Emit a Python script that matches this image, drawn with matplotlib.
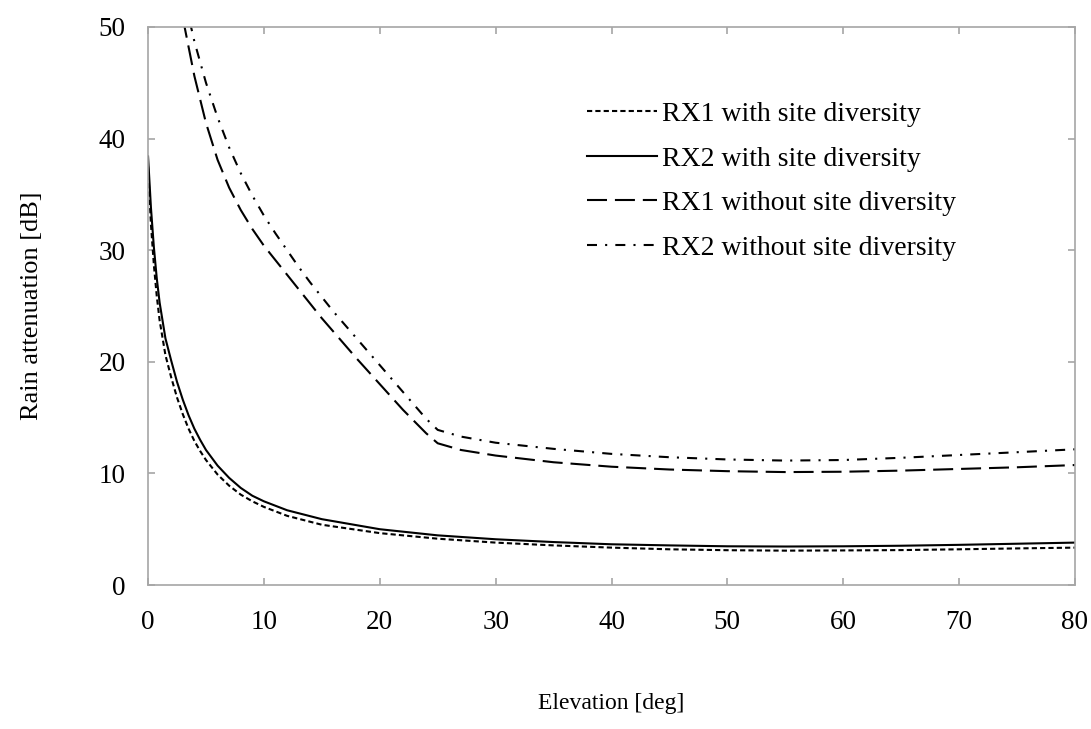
import matplotlib
matplotlib.use('Agg')
import matplotlib.pyplot as plt

# Elevation grids and rain attenuation for both receivers
elev_sd = [0, 0.25, 0.5, 0.75, 1, 1.5, 2, 2.5, 3, 3.5, 4, 4.5, 5, 6, 7, 8, 9,
           10, 12, 15, 20, 25, 30, 35, 40, 45, 50, 55, 60, 65, 70, 75, 80]
rx1_sd = [37.5, 32.3, 28.7, 25.9, 23.7, 20.6, 18.6, 16.8, 15.3, 14.0, 12.9,
          12.0, 11.2, 9.9, 8.9, 8.1, 7.5, 7.0, 6.2, 5.4, 4.65, 4.15, 3.8,
          3.55, 3.35, 3.2, 3.12, 3.08, 3.1, 3.13, 3.2, 3.28, 3.35]
rx2_sd = [38.4, 33.8, 30.3, 27.5, 25.3, 22.1, 20.1, 18.2, 16.6, 15.2, 14.0,
          13.0, 12.1, 10.7, 9.6, 8.7, 8.0, 7.5, 6.7, 5.9, 5.0, 4.45, 4.1,
          3.85, 3.65, 3.55, 3.47, 3.45, 3.47, 3.52, 3.6, 3.7, 3.8]

elev_rx1_nosd = [3, 4, 5, 6, 7, 8, 9, 10, 11, 12, 13, 14, 15, 16, 18, 20, 22,
                 24, 25, 27, 30, 35, 40, 45, 50, 55, 60, 65, 70, 75, 80]
rx1_nosd = [50.8, 45.6, 41.4, 38.1, 35.6, 33.6, 31.9, 30.4, 29.1, 27.8, 26.5,
            25.2, 23.9, 22.7, 20.3, 18.0, 15.7, 13.6, 12.7, 12.1, 11.6, 11.0,
            10.6, 10.35, 10.2, 10.12, 10.15, 10.25, 10.4, 10.55, 10.75]

elev_rx2_nosd = [3.6, 4, 5, 6, 7, 8, 9, 10, 11, 12, 13, 14, 15, 16, 17, 18,
                 20, 22, 24, 25, 27, 30, 35, 40, 45, 50, 55, 60, 65, 70, 75,
                 80]
rx2_nosd = [50.5, 48.7, 45.0, 41.9, 39.2, 36.9, 34.9, 33.1, 31.5, 30.0, 28.5,
            27.1, 25.8, 24.5, 23.3, 22.1, 19.7, 17.3, 14.9, 13.9, 13.3, 12.75,
            12.2, 11.75, 11.45, 11.25, 11.15, 11.2, 11.4, 11.65, 11.9, 12.16]

plt.rcParams['font.family'] = ['Liberation Serif', 'DejaVu Serif']

fig = plt.figure(figsize=(10.91, 7.29), dpi=100)
ax = fig.add_axes([0.1357, 0.1975, 0.8496, 0.7655])

lw = 1.5
ax.plot(elev_sd, rx1_sd, color='black', lw=lw, dashes=(2.5, 1.5),
        label='RX1 with site diversity')
ax.plot(elev_sd, rx2_sd, color='black', lw=lw, linestyle='-',
        label='RX2 with site diversity')
ax.plot(elev_rx1_nosd, rx1_nosd, color='black', lw=lw, dashes=(9.6, 3.8),
        label='RX1 without site diversity')
ax.plot(elev_rx2_nosd, rx2_nosd, color='black', lw=lw,
        dashes=(4.8, 3.9, 1.0, 3.9), label='RX2 without site diversity')

ax.set_xlim(0, 80)
ax.set_ylim(0, 50)
ax.set_xticks(range(0, 81, 10))
ax.set_yticks(range(0, 51, 10))

for side in ax.spines.values():
    side.set_color('#a6a6a6')
    side.set_linewidth(1.2)
ax.tick_params(axis='both', which='both', direction='in', length=5,
               width=1.2, color='#a6a6a6', labelsize=19.5,
               top=True, right=True)
ax.tick_params(axis='x', pad=18)
ax.tick_params(axis='y', pad=16)

ax.set_xlabel('Elevation [deg]', fontsize=17)
ax.set_ylabel('Rain attenuation [dB]', fontsize=19)
ax.xaxis.set_label_coords(0.5, -0.193)
ax.yaxis.set_label_coords(-0.113, 0.5)

ax.legend(loc='upper left', bbox_to_anchor=(0.4736, 0.8665), frameon=False,
          fontsize=20, handlelength=2.52, handletextpad=0.18,
          labelspacing=0.69, borderpad=0, borderaxespad=0)

fig.savefig('out.png', dpi=100)
